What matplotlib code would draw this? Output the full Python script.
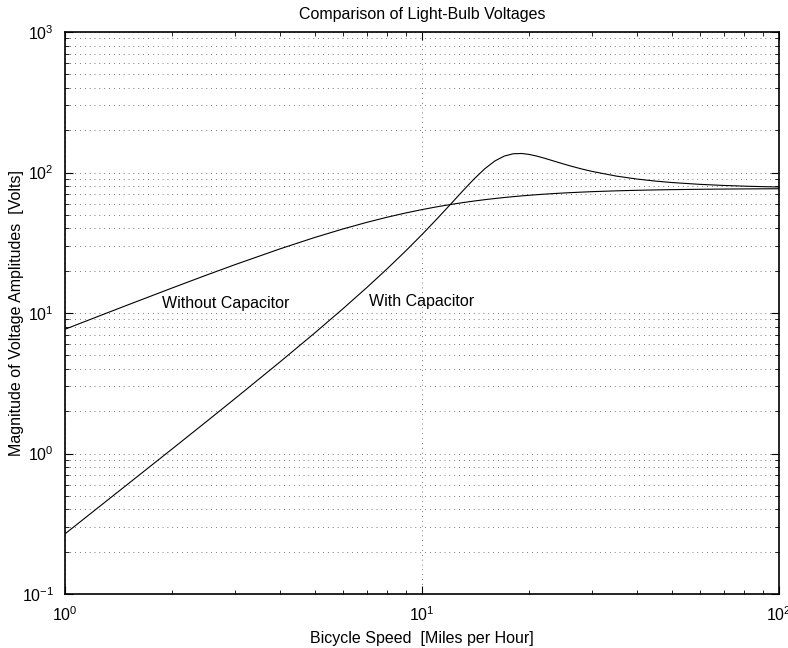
import matplotlib
matplotlib.use("Agg")
import matplotlib.pyplot as plt
from matplotlib.ticker import LogLocator, NullFormatter, LogFormatterMathtext

plt.rcParams['font.family'] = ['Liberation Sans', 'DejaVu Sans']
plt.rcParams['mathtext.fontset'] = 'custom'
plt.rcParams['mathtext.rm'] = 'Liberation Sans'
plt.rcParams['mathtext.it'] = 'Liberation Sans:italic'
plt.rcParams['mathtext.default'] = 'regular'
plt.rcParams['axes.unicode_minus'] = False

# Bicycle speed [mph]
speed = [1, 1.25, 1.5, 2, 2.5, 3, 4, 5, 6, 7, 8, 9, 10, 11, 12, 13, 14, 15,
         16, 17, 18, 19, 20, 21, 22, 23, 24, 26, 28, 30, 35, 40, 45, 50, 60,
         70, 80, 90, 100]

# Voltage amplitude without capacitor [V]
v_without = [7.66, 9.55, 11.42, 15.10, 18.68, 22.13, 28.60, 34.44, 39.62,
             44.16, 48.10, 51.51, 54.45, 56.98, 59.15, 61.03, 62.66, 64.07,
             65.30, 66.37, 67.31, 68.14, 68.87, 69.52, 70.10, 70.61, 71.08,
             71.87, 72.51, 73.05, 74.04, 74.70, 75.17, 75.50, 75.95, 76.23,
             76.41, 76.53, 76.62]

# Voltage amplitude with capacitor [V]
v_with = [0.268, 0.420, 0.606, 1.082, 1.701, 2.470, 4.481, 7.19, 10.70,
          15.15, 20.72, 27.63, 36.16, 46.59, 59.15, 73.84, 90.09, 106.49,
          120.81, 130.9, 135.91, 136.57, 134.37, 130.69, 126.49, 122.27,
          118.31, 111.45, 105.99, 101.68, 94.30, 89.82, 86.90, 84.88, 82.35,
          80.88, 79.95, 79.31, 78.87]

title = "Comparison of Light-Bulb Voltages"
xlabel = "Bicycle Speed  [Miles per Hour]"
ylabel = "Magnitude of Voltage Amplitudes  [Volts]"
label_without = "Without Capacitor"
label_with = "With Capacitor"

fig = plt.figure(figsize=(7.88, 6.48), dpi=100)
ax = fig.add_axes([65/788, 54/648, 714/788, 562/648])

ax.loglog(speed, v_without, color='black', lw=0.8)
ax.loglog(speed, v_with, color='black', lw=0.8)

ax.set_xlim(1, 100)
ax.set_ylim(0.1, 1000)

ax.xaxis.set_major_locator(LogLocator(base=10, numticks=10))
ax.yaxis.set_major_locator(LogLocator(base=10, numticks=10))
ax.xaxis.set_minor_locator(LogLocator(base=10, subs=range(2, 10), numticks=20))
ax.yaxis.set_minor_locator(LogLocator(base=10, subs=range(2, 10), numticks=20))
ax.xaxis.set_major_formatter(LogFormatterMathtext())
ax.yaxis.set_major_formatter(LogFormatterMathtext())
ax.xaxis.set_minor_formatter(NullFormatter())
ax.yaxis.set_minor_formatter(NullFormatter())

grid_kw = dict(color='black', lw=0.5, linestyle=(0, (1, 6)))
ax.yaxis.grid(True, which='both', **grid_kw)
ax.xaxis.grid(True, which='major', **grid_kw)
ax.set_axisbelow(True)

for s in ax.spines.values():
    s.set_linewidth(1.2)
    s.set_color('black')

ax.tick_params(which='both', direction='in', top=True, right=True,
               labelsize=11.5, colors='black')
ax.tick_params(which='major', length=6, width=0.8, pad=8)
ax.tick_params(which='minor', length=3, width=0.6)

ax.set_title(title, fontsize=11.5, pad=9.5)
ax.set_xlabel(xlabel, fontsize=11.5, labelpad=5)
ax.set_ylabel(ylabel, fontsize=11.5)
ax.yaxis.set_label_coords(-0.058, 0.5)

ax.text(1.866, 11.6, label_without, fontsize=11.5, ha='left', va='center')
ax.text(7.12, 12.0, label_with, fontsize=11.5, ha='left', va='center')

fig.savefig("out.png", dpi=100)
